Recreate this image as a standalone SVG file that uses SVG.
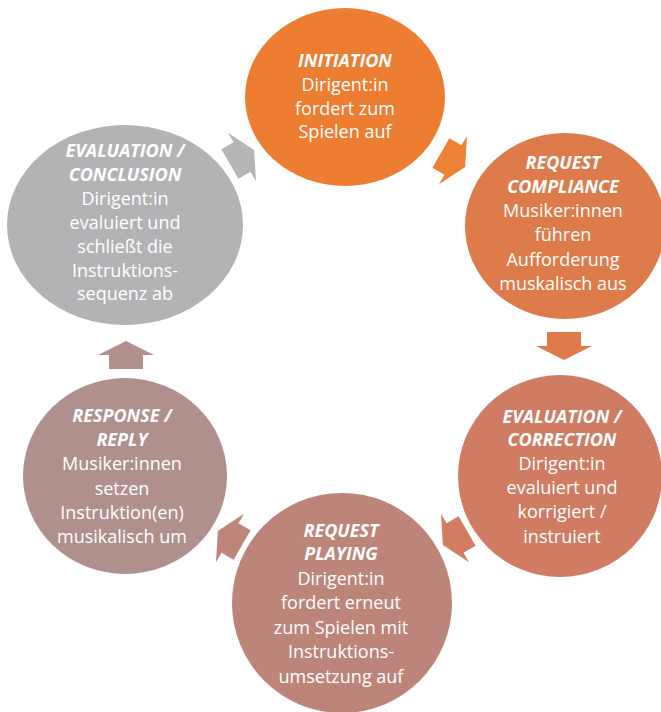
<svg xmlns="http://www.w3.org/2000/svg" width="661" height="712" viewBox="0 0 661 712">
<defs>
<style>
.t{font-family:"Open Sans","Liberation Sans",sans-serif;font-size:18px;fill:#ffffff;text-anchor:middle}
.h{font-weight:bold;font-style:italic}
</style>
<path id="arr" d="M-14,-17 L0,-17 L0,-28 L14,0 L0,28 L0,17 L-14,17 Z"/>
</defs>
<rect width="661" height="712" fill="#ffffff"/>
<g id="connectors">
<use href="#arr" transform="translate(453,160) rotate(30)" fill="#EE8234"/>
<use href="#arr" transform="translate(564,346) rotate(90)" fill="#E07A4A"/>
<use href="#arr" transform="translate(455,538) rotate(150)" fill="#D27D62"/>
<use href="#arr" transform="translate(230,538) rotate(210)" fill="#C0857A"/>
<use href="#arr" transform="translate(126,355) rotate(270)" fill="#B1918E"/>
<use href="#arr" transform="translate(242,157) rotate(330)" fill="#B5B5B7"/>
</g>
<g id="n1">
<ellipse cx="345" cy="97" rx="100" ry="89" fill="#ED7D31"/>
<text class="t"><tspan class="h" x="345" y="67">INITIATION</tspan><tspan x="345" y="91">Dirigent:in</tspan><tspan x="345" y="115">fordert zum</tspan><tspan x="345" y="138">Spielen auf</tspan></text>
</g>
<g id="n2">
<ellipse cx="565" cy="226" rx="100" ry="93" fill="#DD7B4B"/>
<text class="t"><tspan class="h" x="563" y="169">REQUEST</tspan><tspan class="h" x="563" y="193">COMPLIANCE</tspan><tspan x="563" y="217">Musiker:innen</tspan><tspan x="563" y="241">führen</tspan><tspan x="563" y="266">Aufforderung</tspan><tspan x="563" y="290">muskalisch aus</tspan></text>
</g>
<g id="n3">
<ellipse cx="560" cy="476" rx="102" ry="101" fill="#CF7C62"/>
<text class="t"><tspan class="h" x="562" y="423">EVALUATION /</tspan><tspan class="h" x="562" y="446">CORRECTION</tspan><tspan x="562" y="470">Dirigent:in</tspan><tspan x="562" y="494">evaluiert und</tspan><tspan x="562" y="518">korrigiert /</tspan><tspan x="562" y="543">instruiert</tspan></text>
</g>
<g id="n4">
<ellipse cx="342" cy="603" rx="110" ry="110" fill="#BD8579"/>
<text class="t"><tspan class="h" x="341" y="537">REQUEST</tspan><tspan class="h" x="341" y="560">PLAYING</tspan><tspan x="341" y="585">Dirigent:in</tspan><tspan x="341" y="609">fordert erneut</tspan><tspan x="341" y="634">zum Spielen mit</tspan><tspan x="341" y="658">Instruktions-</tspan><tspan x="341" y="683">umsetzung auf</tspan></text>
</g>
<g id="n5">
<ellipse cx="125" cy="476" rx="102" ry="98" fill="#AF908D"/>
<text class="t"><tspan class="h" x="122" y="422">RESPONSE /</tspan><tspan class="h" x="122" y="446">REPLY</tspan><tspan x="122" y="470">Musiker:innen</tspan><tspan x="122" y="495">setzen</tspan><tspan x="122" y="519">Instruktion(en)</tspan><tspan x="122" y="543">musikalisch um</tspan></text>
</g>
<g id="n6">
<ellipse cx="125" cy="225" rx="118" ry="100" fill="#B3B3B5"/>
<text class="t"><tspan class="h" x="125" y="157">EVALUATION /</tspan><tspan class="h" x="125" y="181">CONCLUSION</tspan><tspan x="125" y="205">Dirigent:in</tspan><tspan x="125" y="229">evaluiert und</tspan><tspan x="125" y="253">schließt die</tspan><tspan x="125" y="277">Instruktions-</tspan><tspan x="125" y="300">sequenz ab</tspan></text>
</g>
</svg>
